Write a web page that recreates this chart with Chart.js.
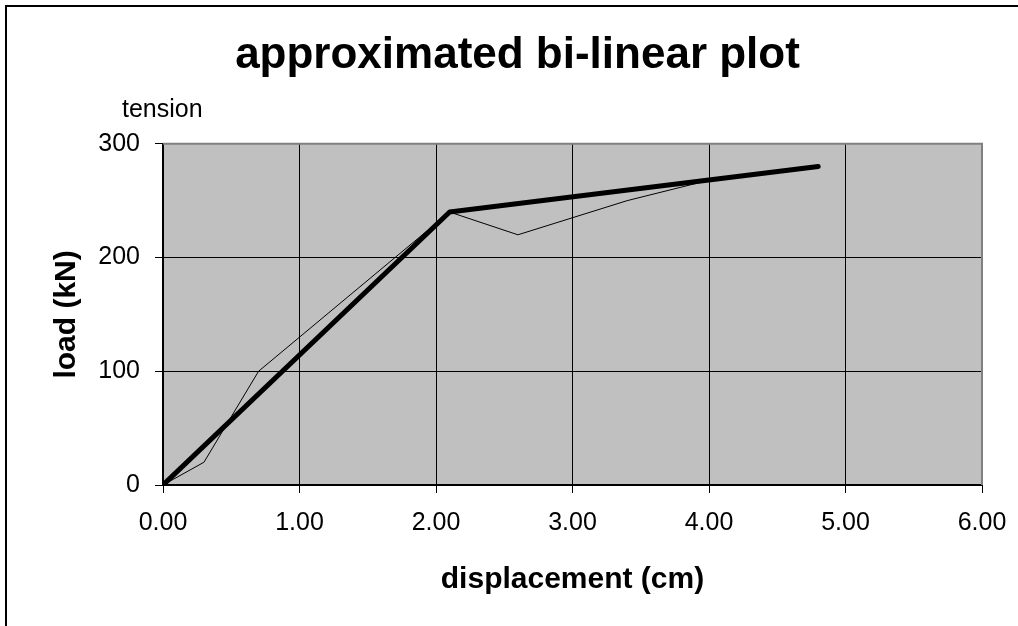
<!DOCTYPE html>
<html>
<head>
<meta charset="utf-8">
<script src="https://cdn.jsdelivr.net/npm/chart.js@4/dist/chart.umd.min.js"></script>
<style>
  html, body { margin: 0; padding: 0; background: #fff; overflow: hidden; }
  #wrap { position: relative; width: 1018px; height: 626px; overflow: hidden; }
  #frame { position: absolute; left: 5px; top: 5px; width: 2000px; height: 2000px; border: 2px solid #000; }
  #holder { position: absolute; left: 0; top: 0; width: 1035px; height: 626px; }
</style>
</head>
<body>
<div id="wrap">
  <div id="frame"></div>
  <div id="holder"><canvas id="myChart" width="1035" height="626"></canvas></div>
</div>
<script>
// data ------------------------------------------------------------
const testX = [0, 0.3, 0.7, 2.1, 2.6, 3.4, 4.0];
const testY = [0, 20, 100, 240, 220, 250, 268];
const bilinX = [0, 2.1, 4.8];
const bilinY = [0, 240, 280];
const xTicks = [0, 1, 2, 3, 4, 5, 6];
const yTicks = [0, 100, 200, 300];

const FONT = "'Liberation Sans', Arial, sans-serif";

function toPoints(xs, ys) {
  return xs.map((x, i) => ({ x: x, y: ys[i] }));
}

// plot background, top/right frame and the "tension" note
const plotBox = {
  id: "plotBox",
  afterLayout(chart) {
    // centre the title over the whole frame, not only the padded box
    if (chart.titleBlock) chart.titleBlock.right += 53;
  },
  beforeDraw(chart) {
    const a = chart.chartArea;
    const ctx = chart.ctx;
    ctx.save();
    ctx.fillStyle = "#c0c0c0";
    ctx.fillRect(a.left, a.top, a.right - a.left, a.bottom - a.top);
    ctx.restore();
  },
  beforeDatasetsDraw(chart) {
    const a = chart.chartArea;
    const ctx = chart.ctx;
    ctx.save();
    ctx.strokeStyle = "#808080";
    ctx.lineWidth = 2;
    ctx.beginPath();
    ctx.moveTo(a.left, a.top);
    ctx.lineTo(a.right, a.top);
    ctx.lineTo(a.right, a.bottom);
    ctx.stroke();
    ctx.restore();
  },
  afterDraw(chart) {
    const ctx = chart.ctx;
    ctx.save();
    ctx.fillStyle = "#000";
    ctx.font = "25px " + FONT;
    ctx.textBaseline = "alphabetic";
    ctx.textAlign = "left";
    ctx.fillText("tension", chart.chartArea.left - 41, 117);
    ctx.restore();
  },
};

const ctx = document.getElementById("myChart").getContext("2d");
const myChart = new Chart(ctx, {
  type: "scatter",
  data: {
    datasets: [
      {
        label: "test",
        data: toPoints(testX, testY),
        showLine: true,
        borderColor: "#000",
        borderWidth: 1,
        pointRadius: 0,
        tension: 0,
      },
      {
        label: "bi-linear",
        data: toPoints(bilinX, bilinY),
        showLine: true,
        borderColor: "#000",
        borderWidth: 5,
        borderCapStyle: "round",
        borderJoinStyle: "round",
        pointRadius: 0,
        tension: 0,
      },
    ],
  },
  options: {
    responsive: false,
    animation: false,
    layout: { padding: { left: 0, right: 53, top: 0, bottom: 0 } },
    plugins: {
      legend: { display: false },
      tooltip: { enabled: false },
      title: {
        display: true,
        text: "approximated bi-linear plot",
        color: "#000",
        font: { family: FONT, size: 44, weight: "bold" },
        padding: { top: 29, bottom: 62 },
      },
    },
    scales: {
      x: {
        type: "linear",
        min: 0,
        max: 6,
        afterBuildTicks: (s) => { s.ticks = xTicks.map((v) => ({ value: v })); },
        afterFit: (s) => { s.height = 141; },
        ticks: {
          color: "#000",
          font: { family: FONT, size: 25 },
          padding: 15,
          maxRotation: 0,
          callback: (v) => Number(v).toFixed(2),
        },
        grid: { color: "#000", lineWidth: 1, tickLength: 8 },
        border: { color: "#000", width: 2 },
        title: {
          display: true,
          text: "displacement (cm)",
          color: "#000",
          font: { family: FONT, size: 30, weight: "bold" },
          padding: { top: 0, bottom: 28 },
        },
      },
      y: {
        type: "linear",
        min: 0,
        max: 300,
        afterBuildTicks: (s) => { s.ticks = yTicks.map((v) => ({ value: v })); },
        afterFit: (s) => { s.width = 163; },
        ticks: {
          color: "#000",
          font: { family: FONT, size: 25 },
          padding: 15,
        },
        grid: { color: "#000", lineWidth: 1, tickLength: 8 },
        border: { color: "#000", width: 2 },
        title: {
          display: true,
          text: "load (kN)",
          color: "#000",
          font: { family: FONT, size: 30, weight: "bold" },
          padding: { top: 49, bottom: 0 },
        },
      },
    },
  },
  plugins: [plotBox],
});
</script>
</body>
</html>
